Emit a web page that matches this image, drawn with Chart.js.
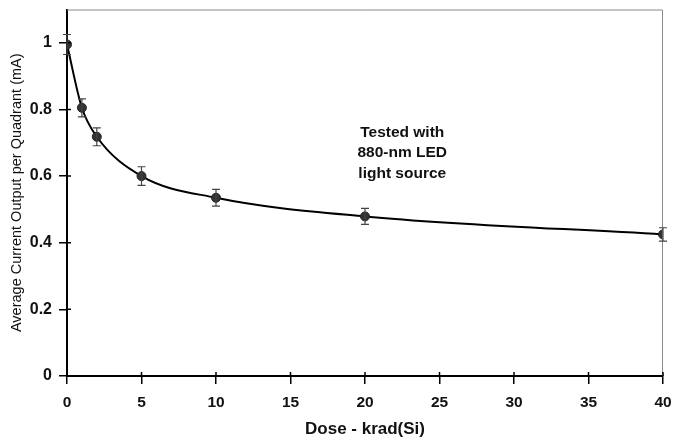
<!DOCTYPE html>
<html>
<head>
  <meta charset="UTF-8">
  <title>Average Current Output vs Dose</title>
  <script src="https://cdn.jsdelivr.net/npm/chart.js"></script>
  <style>
    body {
      margin: 0;
      padding: 0;
      background: #fff;
    }

    #chart-container {
      width: 674px;
      height: 440px;
    }
  </style>
</head>
<body>
  <div id="chart-container">
    <canvas id="doseChart"></canvas>
  </div>

  <script>
    // values
    var doseValues = [0, 1, 2, 5, 10, 20, 40];
    var currentValues = [0.995, 0.805, 0.718, 0.600, 0.535, 0.479, 0.425];
    var errorValues = [0.03, 0.027, 0.027, 0.028, 0.025, 0.024, 0.02];
    var xTicks = [0, 5, 10, 15, 20, 25, 30, 35, 40];
    var yTicks = [0, 0.2, 0.4, 0.6, 0.8, 1];
    var noteLines = ['Tested with', '880-nm LED', 'light source'];
    var notePos = { x: 22.5, y: 0.67 };

    var FONT = '"Liberation Sans", Arial, sans-serif';

    var points = doseValues.map(function (d, i) {
      return { x: d, y: currentValues[i] };
    });

    // error bars, gray frame on top/right, inner tick stubs and the note
    var extrasPlugin = {
      id: 'extras',
      afterDatasetsDraw: function (chart) {
        var ctx = chart.ctx;
        var xs = chart.scales.x;
        var ys = chart.scales.y;
        var area = chart.chartArea;

        ctx.save();
        ctx.strokeStyle = '#888';
        ctx.lineWidth = 1;
        ctx.beginPath();
        ctx.moveTo(area.left, area.top + 0.5);
        ctx.lineTo(area.right - 0.5, area.top + 0.5);
        ctx.lineTo(area.right - 0.5, area.bottom);
        ctx.stroke();

        // ticks in the original cross the axis a little
        ctx.strokeStyle = '#000';
        ctx.lineWidth = 1.5;
        ctx.beginPath();
        xTicks.forEach(function (v) {
          var px = xs.getPixelForValue(v);
          ctx.moveTo(px, area.bottom);
          ctx.lineTo(px, area.bottom - 4);
        });
        yTicks.forEach(function (v) {
          var py = ys.getPixelForValue(v);
          ctx.moveTo(area.left, py);
          ctx.lineTo(area.left + 4, py);
        });
        ctx.stroke();

        ctx.strokeStyle = '#444';
        ctx.lineWidth = 1.2;
        for (var i = 0; i < doseValues.length; i++) {
          var px = xs.getPixelForValue(doseValues[i]);
          var top = ys.getPixelForValue(currentValues[i] + errorValues[i]);
          var bot = ys.getPixelForValue(currentValues[i] - errorValues[i]);
          ctx.beginPath();
          ctx.moveTo(px, top);
          ctx.lineTo(px, bot);
          ctx.moveTo(px - 4, top);
          ctx.lineTo(px + 4, top);
          ctx.moveTo(px - 4, bot);
          ctx.lineTo(px + 4, bot);
          ctx.stroke();
        }

        ctx.fillStyle = '#111';
        ctx.font = 'bold 15.5px ' + FONT;
        ctx.textAlign = 'center';
        ctx.textBaseline = 'middle';
        var cx = xs.getPixelForValue(notePos.x);
        var cy = ys.getPixelForValue(notePos.y);
        noteLines.forEach(function (line, k) {
          ctx.fillText(line, cx, cy + (k - 1) * 20.5);
        });
        ctx.restore();
      }
    };

    var ctx = document.getElementById('doseChart').getContext('2d');
    var doseChart = new Chart(ctx, {
      type: 'scatter',
      data: {
        datasets: [{
          data: points,
          showLine: true,
          borderColor: '#000',
          borderWidth: 2,
          cubicInterpolationMode: 'monotone',
          pointRadius: 4.5,
          pointBackgroundColor: '#333',
          pointBorderColor: '#222',
          pointBorderWidth: 1
        }]
      },
      options: {
        animation: false,
        responsive: true,
        maintainAspectRatio: false,
        layout: {
          padding: { left: 4, right: 11, top: 9.5, bottom: 0 }
        },
        plugins: {
          legend: { display: false },
          tooltip: { enabled: false }
        },
        scales: {
          x: {
            type: 'linear',
            min: 0,
            max: 40,
            afterBuildTicks: function (scale) {
              scale.ticks = xTicks.map(function (v) { return { value: v }; });
            },
            afterFit: function (scale) {
              scale.height = 64;
              scale.paddingLeft = 0;
              scale.paddingRight = 0;
            },
            grid: {
              drawOnChartArea: false,
              color: '#000',
              tickLength: 8,
              lineWidth: 1.5
            },
            border: { color: '#000', width: 2 },
            ticks: {
              color: '#111',
              padding: 9,
              maxRotation: 0,
              font: { family: FONT, size: 15.5, weight: 'bold' }
            },
            title: {
              display: true,
              text: 'Dose - krad(Si)',
              color: '#111',
              padding: { top: 4, bottom: 0 },
              font: { family: FONT, size: 17, weight: 'bold' }
            }
          },
          y: {
            type: 'linear',
            min: 0,
            max: 1.1,
            afterBuildTicks: function (scale) {
              scale.ticks = yTicks.map(function (v) { return { value: v }; });
            },
            afterFit: function (scale) {
              scale.width = 63;
              scale.paddingTop = 0;
              scale.paddingBottom = 0;
            },
            grid: {
              drawOnChartArea: false,
              color: '#000',
              tickLength: 8,
              lineWidth: 1.5
            },
            border: { color: '#000', width: 2 },
            ticks: {
              color: '#111',
              padding: 7,
              callback: function (v) { return String(Math.round(v * 10) / 10); },
              font: { family: FONT, size: 16, weight: 'bold' }
            },
            title: {
              display: true,
              text: 'Average Current Output per Quadrant (mA)',
              color: '#111',
              padding: { top: 4, bottom: 0 },
              font: { family: FONT, size: 14.5 }
            }
          }
        }
      },
      plugins: [extrasPlugin]
    });
  </script>
</body>
</html>
